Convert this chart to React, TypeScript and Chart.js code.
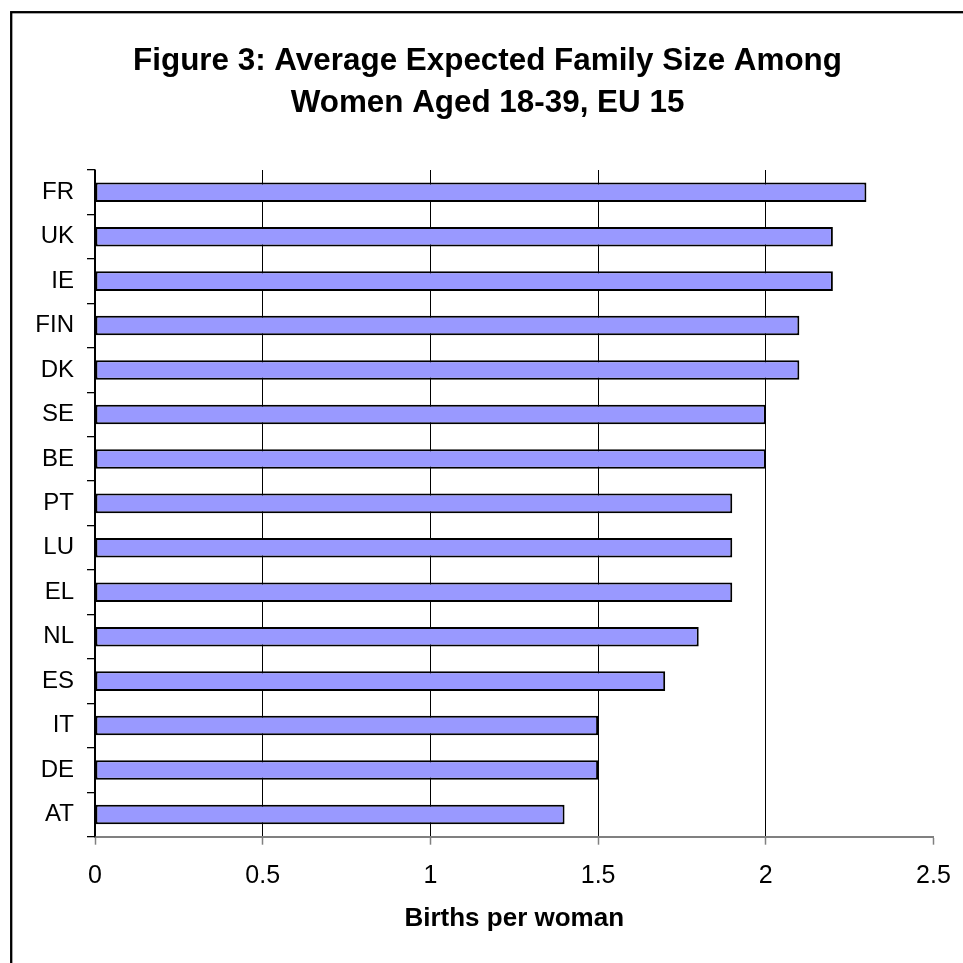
import React, { useEffect, useRef } from "react";
import { Chart, registerables } from "chart.js";

Chart.register(...registerables);

const titleLines = ["Figure 3: Average Expected Family Size Among", "Women Aged 18-39, EU 15"];
const countries = ["FR", "UK", "IE", "FIN", "DK", "SE", "BE", "PT", "LU", "EL", "NL", "ES", "IT", "DE", "AT"];
const births = [2.3, 2.2, 2.2, 2.1, 2.1, 2.0, 2.0, 1.9, 1.9, 1.9, 1.8, 1.7, 1.5, 1.5, 1.4];
const xAxisTitle = "Births per woman";
const xMin = 0;
const xMax = 2.5;
const xStep = 0.5;

const FONT = "'Liberation Sans', Arial, sans-serif";

const framePlugin = {
  id: "frame",
  afterDraw(chart: any) {
    const ctx = chart.ctx;
    ctx.save();
    ctx.strokeStyle = "#000";
    ctx.lineWidth = 2.3;
    ctx.strokeRect(11.2, 12.2, 2000, 2000);
    ctx.restore();
  },
};

const titlePlugin = {
  id: "figTitle",
  afterDraw(chart: any) {
    const ctx = chart.ctx;
    ctx.save();
    ctx.fillStyle = "#000";
    ctx.font = `bold 31.4px ${FONT}`;
    ctx.textAlign = "center";
    ctx.textBaseline = "middle";
    titleLines.forEach((line, i) => {
      ctx.fillText(line, 487.5, 61 + i * 42);
    });
    ctx.restore();
  },
};

export default function App() {
  const ref = useRef<HTMLCanvasElement>(null);
  useEffect(() => {
    if (!ref.current) return;
    const chart = new Chart(ref.current, {
      type: "bar",
      data: {
        labels: countries,
        datasets: [
          {
            data: births,
            backgroundColor: "#9999FF",
            borderColor: "#000000",
            borderWidth: 2,
            borderSkipped: false,
            categoryPercentage: 1,
            barPercentage: 0.44,
          },
        ],
      },
      plugins: [framePlugin, titlePlugin],
      options: {
        indexAxis: "y",
        responsive: false,
        animation: false,
        layout: { padding: { left: 0, right: 29.5, top: 170, bottom: 0 } },
        plugins: {
          legend: { display: false },
          tooltip: { enabled: false },
          title: { display: false },
        },
        scales: {
          x: {
            type: "linear",
            min: xMin,
            max: xMax,
            ticks: {
              stepSize: xStep,
              color: "#000",
              font: { family: FONT, size: 25 },
              padding: 16,
              callback: (v: any) => String(Number(v)),
            },
            grid: {
              color: (c: any) => (c.tick && c.tick.value === xMax ? "rgba(0,0,0,0)" : "#000"),
              lineWidth: 1,
              tickColor: "#808080",
              tickLength: 8,
              tickWidth: 1.5,
            },
            border: { color: "#808080", width: 2 },
            title: {
              display: true,
              text: xAxisTitle,
              color: "#000",
              font: { family: FONT, size: 26, weight: "bold", lineHeight: 1.2 },
              padding: { top: 0, bottom: 29 },
            },
            afterFit(scale: any) {
              scale.height = 126.3;
              scale.paddingRight = 0;
              scale.paddingLeft = 0;
            },
          },
          y: {
            ticks: {
              color: "#000",
              font: { family: FONT, size: 24 },
              padding: 13,
            },
            grid: {
              offset: true,
              drawOnChartArea: false,
              color: "#000",
              tickColor: "#000",
              tickLength: 8,
              lineWidth: 1.3,
            },
            border: { color: "#000", width: 1.5 },
            afterFit(scale: any) {
              scale.width = 95;
              scale.paddingTop = 0;
              scale.paddingBottom = 0;
            },
          },
        },
      },
    });
    return () => chart.destroy();
  }, []);
  return (
    <div style={{ position: "fixed", left: 0, top: 0, width: 963, height: 963, background: "#fff" }}>
      <canvas ref={ref} width={963} height={963} />
    </div>
  );
}
